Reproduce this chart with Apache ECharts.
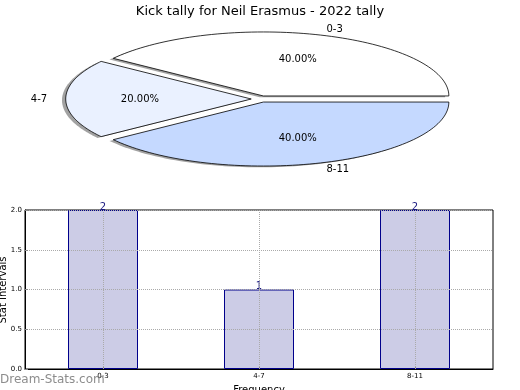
<!DOCTYPE html>
<html>
<head>
<meta charset="utf-8">
<script src="https://cdn.jsdelivr.net/npm/echarts@6/dist/echarts.min.js"></script>
<style>
html,body{margin:0;padding:0;background:#fff;}
#main{width:520px;height:390px;}
</style>
</head>
<body>
<div id="main"></div>
<script>
// ---- data ----
var titleText = 'Kick tally for Neil Erasmus - 2022 tally';
var yAxisName = 'Stat Intervals';
var xAxisName = 'Frequency';
var categories = ['0-3', '4-7', '8-11'];
var values = [2, 1, 2];
var pieColors = ['#ffffff', '#eaf1ff', '#c5d9ff'];
var yTicks = [0, 0.5, 1.0, 1.5, 2.0];
var explode = 0.05;

var total = values.reduce(function (a, b) { return a + b; }, 0);
var starts = [];
(function () { var acc = 0; for (var i = 0; i < values.length; i++) { starts.push(acc); acc += values[i]; } })();

function wedgeGeom(idx) {
  var a0 = starts[idx] / total * 2 * Math.PI;
  var a1 = (starts[idx] + values[idx]) / total * 2 * Math.PI;
  var am = (a0 + a1) / 2;
  return { a0: a0, a1: a1, am: am, cx: explode * Math.cos(am), cy: explode * Math.sin(am) };
}
function wedgePoints(api, g, dx, dy) {
  var pts = [api.coord([g.cx + dx, g.cy + dy])];
  var n = 80;
  for (var k = 0; k <= n; k++) {
    var a = g.a0 + (g.a1 - g.a0) * k / n;
    pts.push(api.coord([g.cx + dx + Math.cos(a), g.cy + dy + Math.sin(a)]));
  }
  return pts;
}

var pieData = categories.map(function (c, i) { return [i, values[i]]; });

var chart = echarts.init(document.getElementById('main'), null, { renderer: 'canvas' });
var option = {
  animation: false,
  backgroundColor: '#ffffff',
  title: {
    text: titleText, left: 'center', top: 0,
    textStyle: { fontFamily: 'DejaVu Sans', fontSize: 13, fontWeight: 'normal', color: '#000' }
  },
  graphic: [
    {
      type: 'text', left: 0, top: 374, z: 100,
      style: { text: 'Dream-Stats.com', fontFamily: 'DejaVu Sans', fontSize: 12, fill: 'rgba(120,120,120,0.85)' }
    },
    {
      type: 'text', x: 3, y: 290, rotation: Math.PI / 2, z: 100,
      style: { text: yAxisName, fontFamily: 'DejaVu Sans', fontSize: 10, fill: '#000', align: 'center', verticalAlign: 'middle' }
    }
  ],
  grid: [
    { left: 75, top: 35, width: 371, height: 128, outerBoundsMode: 'none', containLabel: false },
    { left: 25, top: 210, width: 468, height: 159, outerBoundsMode: 'none', containLabel: false,
      show: true, borderColor: '#000', borderWidth: 1, backgroundColor: 'transparent' }
  ],
  xAxis: [
    { gridIndex: 0, type: 'value', min: -1, max: 1, show: false },
    {
      gridIndex: 1, type: 'category', data: categories, z: 3,
      name: xAxisName, nameLocation: 'middle', nameGap: 16,
      nameTextStyle: { fontFamily: 'DejaVu Sans', fontSize: 10, color: '#000' },
      axisLine: { lineStyle: { color: '#000' } },
      axisTick: { show: true, alignWithLabel: true, inside: true, length: 3, lineStyle: { color: '#888' } },
      axisLabel: { fontFamily: 'DejaVu Sans', fontSize: 7, color: '#000', margin: 4 },
      splitLine: { show: false }
    }
  ],
  yAxis: [
    { gridIndex: 0, type: 'value', min: -1, max: 1, show: false },
    {
      gridIndex: 1, type: 'value', min: 0, max: 2, interval: 0.5, z: 3,
      axisLine: { show: true, lineStyle: { color: '#000' } },
      axisTick: { show: true, inside: true, length: 3, lineStyle: { color: '#888' } },
      axisLabel: { fontFamily: 'DejaVu Sans', fontSize: 7, color: '#000', margin: 3,
        formatter: function (v) { return v.toFixed(1); } },
      splitLine: { show: true, lineStyle: { type: 'dotted', color: '#aaaaaa', width: 1 } }
    }
  ],
  series: [
    {
      type: 'custom', name: 'shadow', xAxisIndex: 0, yAxisIndex: 0, z: 1,
      data: pieData, silent: true,
      renderItem: function (params, api) {
        var idx = api.value(0);
        var g = wedgeGeom(idx);
        return {
          type: 'polygon',
          shape: { points: wedgePoints(api, g, -0.02, -0.02) },
          style: { fill: 'rgba(70,70,70,0.5)', stroke: null }
        };
      }
    },
    {
      type: 'custom', name: 'pie', xAxisIndex: 0, yAxisIndex: 0, z: 2,
      data: pieData,
      renderItem: function (params, api) {
        var idx = api.value(0);
        var g = wedgeGeom(idx);
        var pct = (values[idx] / total * 100).toFixed(2) + '%';
        var lx = g.cx + 1.1 * Math.cos(g.am), ly = g.cy + 1.1 * Math.sin(g.am);
        var px = g.cx + 0.6 * Math.cos(g.am), py = g.cy + 0.6 * Math.sin(g.am);
        var lp = api.coord([lx, ly]);
        var pp = api.coord([px, py]);
        return {
          type: 'group',
          children: [
            {
              type: 'polygon',
              shape: { points: wedgePoints(api, g, 0, 0) },
              style: { fill: pieColors[idx], stroke: '#000', lineWidth: 0.8 }
            },
            {
              type: 'text', x: pp[0], y: pp[1],
              style: { text: pct, fontFamily: 'DejaVu Sans', fontSize: 10, fill: '#000', align: 'center', verticalAlign: 'middle' }
            },
            {
              type: 'text', x: lp[0], y: lp[1],
              style: { text: categories[idx], fontFamily: 'DejaVu Sans', fontSize: 10, fill: '#000',
                align: lx > 0 ? 'left' : 'right', verticalAlign: 'middle' }
            }
          ]
        };
      }
    },
    {
      type: 'bar', xAxisIndex: 1, yAxisIndex: 1, z: 2,
      data: values, barWidth: 70,
      itemStyle: { color: '#ccccE6', borderColor: '#00008b', borderWidth: 1 },
      label: { show: true, position: 'top', distance: -2, fontFamily: 'DejaVu Sans', fontSize: 10, color: '#1a1a80' },
      markLine: {
        silent: true, symbol: 'none', label: { show: false },
        lineStyle: { type: 'dotted', color: '#aaaaaa', width: 1 },
        data: categories.map(function (c) { return { xAxis: c }; })
      }
    }
  ]
};
chart.setOption(option);
</script>
</body>
</html>
